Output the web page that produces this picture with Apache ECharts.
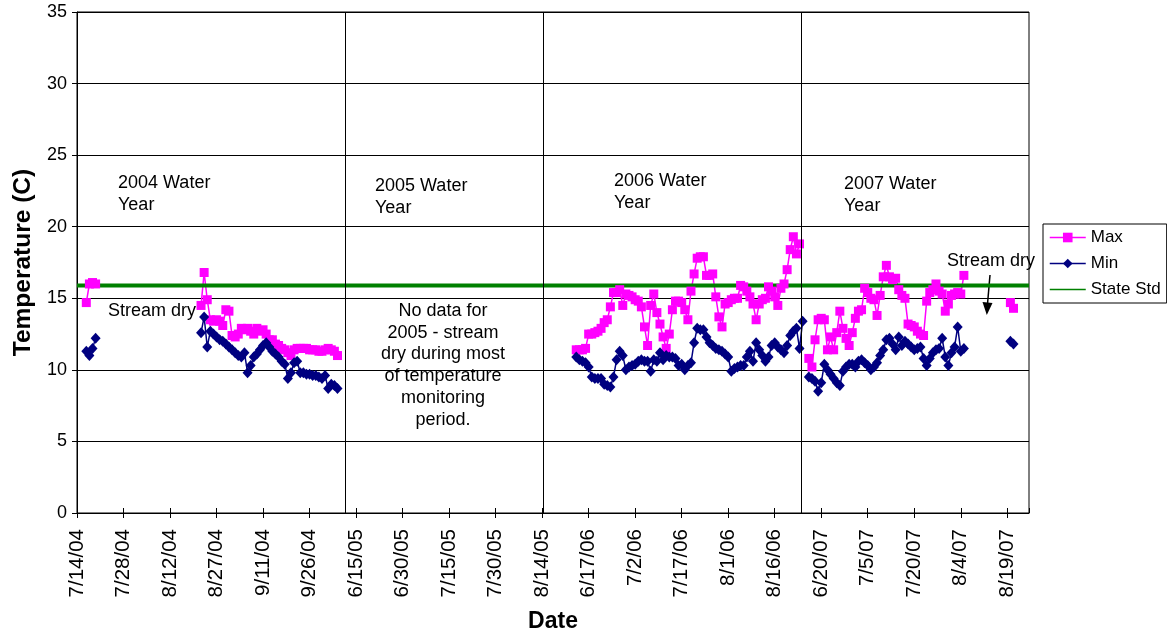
<!DOCTYPE html>
<html><head><meta charset="utf-8">
<script src="https://cdn.jsdelivr.net/npm/echarts@6/dist/echarts.min.js"></script>
<style>html,body{margin:0;padding:0;background:#fff}#c{width:1167px;height:639px}</style>
</head><body><div id="c"></div>
<script>
// ---- data ----
// daily category slots of each monitoring season: [first day, number of days]
const yearBlocks = [['2004-07-13', 87], ['2005-06-12', 64], ['2006-06-03', 83], ['2007-06-14', 74]];
const tickLabels = ['7/14/04','7/28/04','8/12/04','8/27/04','9/11/04','9/26/04','6/15/05','6/30/05','7/15/05','7/30/05','8/14/05',
  '6/17/06','7/2/06','7/17/06','8/1/06','8/16/06','6/20/07','7/5/07','7/20/07','8/4/07','8/19/07'];
const stateStd = 15.9;

const max2004a = [14.7, 16.0, 16.1, 16.0];
const min2004a = [11.3, 11.0, 11.5, 12.2];
const max2004b = [14.5, 16.8, 14.9, 13.5, 13.4, 13.5, 13.4, 13.1, 14.2, 14.1, 12.4, 12.3, 12.5, 12.9, 12.8, 12.9, 12.7, 12.5, 12.9, 12.7,
  12.8, 12.5, 12.1, 12.1, 11.8, 11.7, 11.5, 11.4, 11.2, 11.0, 11.4, 11.5, 11.5, 11.5, 11.5, 11.4, 11.4, 11.4, 11.3, 11.3,
  11.4, 11.5, 11.4, 11.3, 11.0];
const min2004b = [12.6, 13.7, 11.6, 12.7, 12.5, 12.3, 12.1, 12.0, 11.8, 11.6, 11.4, 11.2, 11.0, 10.9, 11.2, 9.8, 10.3, 10.9, 11.1, 11.4,
  11.7, 11.9, 11.6, 11.3, 11.1, 10.9, 10.6, 10.4, 9.4, 9.8, 10.5, 10.6, 9.8, 9.8, 9.7, 9.7, 9.6, 9.6, 9.5, 9.4,
  9.6, 8.7, 9.0, 8.9, 8.7];
const max2006 = [11.4, 11.4, 11.4, 11.5, 12.5, 12.5, 12.6, 12.7, 12.9, 13.3, 13.5, 14.4, 15.4, 15.4, 15.6, 14.5, 15.3, 15.2, 15.1, 14.9,
  14.8, 14.4, 13.0, 11.7, 14.5, 15.3, 14.0, 13.2, 12.3, 11.5, 12.5, 14.2, 14.8,
  14.8, 14.7, 14.2, 13.5, 15.5, 16.7, 17.8, 17.9, 17.9, 16.6, 16.6, 16.7, 15.1, 13.7, 13.0, 14.6, 14.7, 14.9, 15.0, 15.0,
  15.9, 15.8, 15.5, 15.1, 14.6, 13.5, 14.6, 14.9, 15.0, 15.8, 15.5, 15.1, 14.5, 15.7, 16.0, 17.0, 18.4, 19.3, 18.1, 18.8];
const min2006 = [10.9, 10.7, 10.6, 10.5, 10.2, 9.5, 9.4, 9.4, 9.4, 9.0, 8.9, 8.8, 9.5, 10.7, 11.3, 11.0, 10.0, 10.2, 10.3, 10.4,
  10.6, 10.7, 10.6, 10.6, 9.9, 10.7, 10.6, 11.2, 10.7, 11.0, 10.9, 10.9, 10.8, 10.3, 10.4, 10.0, 10.3, 10.5, 11.9, 12.9,
  12.8, 12.8, 12.3, 11.9, 11.7, 11.5, 11.4, 11.3, 11.1, 10.9, 9.9, 10.1, 10.2, 10.3, 10.3, 10.9, 11.3, 10.6, 11.9, 11.4,
  11.0, 10.6, 10.9, 11.7, 11.9, 11.6, 11.4, 11.2, 11.7, 12.4, 12.7, 12.9, 11.5, 13.4];
const max2007 = [10.8, 10.2, 12.1, 13.5, 13.6, 13.5, 11.4, 12.3, 11.4, 12.6, 14.1, 12.9, 12.2, 11.7, 12.6, 13.6, 14.1, 14.2, 15.7, 15.4,
  15.0, 14.9, 13.8, 15.2, 16.5, 17.3, 16.5, 16.3, 16.4, 15.6, 15.2, 15.0, 13.2, 13.1, 13.0, 12.7, 12.5, 12.4, 14.8, 15.4,
  15.6, 16.0, 15.5, 15.3, 14.1, 14.6, 15.2, 15.3, 15.4, 15.3, 16.6];
const min2007 = [9.5, 9.4, 9.2, 8.5, 9.1, 10.4, 10.0, 9.7, 9.4, 9.1, 8.9, 9.9, 10.2, 10.4, 10.4, 10.2, 10.6, 10.7, 10.5, 10.3,
  10.0, 10.2, 10.5, 11.0, 11.4, 12.1, 12.2, 11.8, 11.4, 12.3, 11.7, 12.0, 11.8, 11.6, 11.4, 11.5, 11.6, 10.8, 10.3, 10.8,
  11.2, 11.4, 11.5, 12.2, 10.9, 10.3, 11.2, 11.6, 13.0, 11.3, 11.5];
const max2007b = [14.7, 14.3];
const min2007b = [12.0, 11.8];

// first date of each run of readings
const maxRuns = [['7/16/04', max2004a], ['8/22/04', max2004b], ['6/13/06', max2006], ['6/16/07', max2007], ['8/20/07', max2007b]];
const minRuns = [['7/16/04', min2004a], ['8/22/04', min2004b], ['6/13/06', min2006], ['6/16/07', min2007], ['8/20/07', min2007b]];

// ---- build ----
function fmt(d) { return (d.getUTCMonth() + 1) + '/' + d.getUTCDate() + '/' + String(d.getUTCFullYear()).slice(2); }
const categories = [];
const blockEnds = [];
yearBlocks.forEach(([s, n]) => {
  const p = s.split('-').map(Number);
  const t0 = Date.UTC(p[0], p[1] - 1, p[2]);
  for (let i = 0; i < n; i++) categories.push(fmt(new Date(t0 + i * 86400000)));
  blockEnds.push(categories.length - 0.5);
});
blockEnds.pop();
const N = categories.length;
function fill(runs) {
  const arr = new Array(N).fill(null);
  runs.forEach(([d, vals]) => { const s = categories.indexOf(d); vals.forEach((v, i) => { arr[s + i] = v; }); });
  return arr;
}
const maxData = fill(maxRuns);
const minData = fill(minRuns);

const FF = '"Liberation Sans", Arial, sans-serif';
const chart = echarts.init(document.getElementById('c'), null, { renderer: 'canvas' });
chart.setOption({
  animation: false,
  backgroundColor: '#fff',
  textStyle: { fontFamily: FF, color: '#000' },
  grid: { left: 77, right: 138, top: 12, bottom: 126, show: true, borderColor: '#000', borderWidth: 1, backgroundColor: '#fff' },
  legend: {
    data: ['Max', 'Min', { name: 'State Std', itemStyle: { opacity: 0 } }],
    orient: 'vertical', left: 1043, top: 224,
    padding: [5, 6, 5, 6], itemWidth: 36, itemHeight: 12, itemGap: 9,
    borderColor: '#000', borderWidth: 1, backgroundColor: '#fff',
    textStyle: { fontSize: 17, fontFamily: FF, color: '#000', lineHeight: 17 },
    lineStyle: { width: 1.5 }
  },
  xAxis: [{
    type: 'category', data: categories, boundaryGap: false,
    axisLine: { lineStyle: { color: '#000', width: 1 } },
    axisTick: { interval: 14, length: 5, lineStyle: { color: '#000' } },
    axisLabel: { interval: 14, rotate: 90, fontSize: 20.5, color: '#000', margin: 16, fontFamily: FF,
      formatter: (v, i) => tickLabels[Math.round(i / 15)] },
    splitLine: { show: false },
    name: 'Date', nameLocation: 'middle', nameGap: 97,
    nameTextStyle: { fontSize: 23, fontWeight: 'bold', color: '#000', fontFamily: FF }
  }, {
    type: 'value', min: 0, max: N - 1, interval: 15, position: 'bottom',
    axisLine: { show: false }, axisLabel: { show: false }, splitLine: { show: false },
    axisTick: { show: true, inside: true, length: 5, lineStyle: { color: '#000' } }
  }],
  yAxis: {
    type: 'value', min: 0, max: 35, interval: 5,
    axisLine: { show: true, lineStyle: { color: '#000' } },
    axisTick: { show: true, length: 5, lineStyle: { color: '#000' } },
    axisLabel: { fontSize: 18, color: '#000', margin: 10, fontFamily: FF },
    splitLine: { lineStyle: { color: '#000', width: 1 } },
    name: 'Temperature (C)', nameLocation: 'middle', nameGap: 28,
    nameTextStyle: { fontSize: 24.5, fontWeight: 'bold', color: '#000', fontFamily: FF }
  },
  series: [
    { name: 'Max', type: 'line', data: maxData, symbol: 'rect', symbolSize: 9, showAllSymbol: true, connectNulls: false,
      itemStyle: { color: '#FF00FF' }, lineStyle: { color: '#FF00FF', width: 1.5 } },
    { name: 'Min', type: 'line', data: minData, symbol: 'diamond', symbolSize: [10, 11], showAllSymbol: true, connectNulls: false,
      itemStyle: { color: '#000080' }, lineStyle: { color: '#000080', width: 1.5 } },
    { name: 'State Std', type: 'line', xAxisIndex: 1, data: [[0, stateStd], [N - 1, stateStd]], symbol: 'none',
      itemStyle: { color: '#008000' }, lineStyle: { color: '#008000', width: 4 } },
    { name: 'sep', type: 'line', xAxisIndex: 1, data: [], silent: true,
      markLine: { symbol: 'none', silent: true, label: { show: false },
        lineStyle: { color: '#000', width: 1, type: 'solid' },
        data: blockEnds.map(v => ({ xAxis: v })) } }
  ],
  graphic: [
    { type: 'text', left: 118, top: 172, style: { text: '2004 Water\nYear', font: '18px ' + FF, lineHeight: 22, fill: '#000' } },
    { type: 'text', left: 375, top: 175, style: { text: '2005 Water\nYear', font: '18px ' + FF, lineHeight: 22, fill: '#000' } },
    { type: 'text', left: 614, top: 170, style: { text: '2006 Water\nYear', font: '18px ' + FF, lineHeight: 22, fill: '#000' } },
    { type: 'text', left: 844, top: 173, style: { text: '2007 Water\nYear', font: '18px ' + FF, lineHeight: 22, fill: '#000' } },
    { type: 'text', left: 108, top: 300, style: { text: 'Stream dry', font: '18px ' + FF, lineHeight: 22, fill: '#000' } },
    { type: 'text', left: 947, top: 250, style: { text: 'Stream dry', font: '18px ' + FF, lineHeight: 22, fill: '#000' } },
    { type: 'text', x: 443, y: 300, style: { text: 'No data for\n2005 - stream\ndry during most\nof temperature\nmonitoring\nperiod.',
      font: '18px ' + FF, lineHeight: 21.8, fill: '#000', textAlign: 'center', textVerticalAlign: 'top' } },
    { type: 'line', shape: { x1: 990, y1: 275, x2: 987.5, y2: 304 }, style: { stroke: '#000', lineWidth: 1.5 } },
    { type: 'polygon', shape: { points: [[982.5, 302], [992.5, 303], [986.8, 315]] }, style: { fill: '#000' } }
  ]
});
</script></body></html>
